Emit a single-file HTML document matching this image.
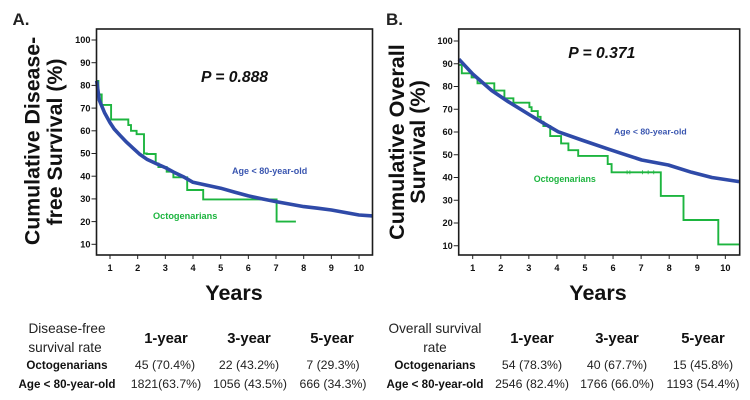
<!DOCTYPE html>
<html lang="en">
<head>
<meta charset="utf-8">
<title>Survival curves: octogenarians versus age under 80</title>
<style>
  html, body { margin: 0; padding: 0; background: #fff; width: 750px; height: 400px; overflow: hidden; }
  svg { display: block; font-family: "Liberation Sans", sans-serif; }
  .tick { font-size: 9.2px; font-weight: bold; fill: #111; }
  .axis-title { font-weight: bold; fill: #111; }
  .tbl { font-size: 12.3px; fill: #222; text-anchor: middle; }
  .tbl-h { font-size: 14.8px; font-weight: bold; fill: #111; text-anchor: middle; }
  .tbl-b { font-size: 11.6px; font-weight: bold; fill: #111; text-anchor: middle; }
  .tbl-t { font-size: 13.6px; fill: #222; text-anchor: middle; }
</style>
</head>
<body>
<svg id="fig" width="750" height="400" viewBox="0 0 750 400" xmlns="http://www.w3.org/2000/svg">
  <rect width="750" height="400" fill="#fff"/>

  <g id="panelA"></g>
  <g id="panelB"></g>

  <text x="12.5" y="25" font-size="17" font-weight="bold" fill="#222">A.</text>
  <text x="386" y="25" font-size="17" font-weight="bold" fill="#222">B.</text>

  <text class="axis-title" font-size="21.3" text-anchor="middle" transform="translate(39.5,141) rotate(-90)">Cumulative Disease-</text>
  <text class="axis-title" font-size="21.3" text-anchor="middle" transform="translate(62,142) rotate(-90)">free Survival (%)</text>
  <text class="axis-title" font-size="21.6" text-anchor="middle" transform="translate(404,142) rotate(-90)">Cumulative Overall</text>
  <text class="axis-title" font-size="21.6" text-anchor="middle" transform="translate(425,142) rotate(-90)">Survival (%)</text>

  <text class="axis-title" font-size="21.5" text-anchor="middle" x="234" y="300">Years</text>
  <text class="axis-title" font-size="21.5" text-anchor="middle" x="598" y="300">Years</text>

  <text x="201" y="82" font-size="15.7" font-weight="bold" font-style="italic" fill="#111">P = 0.888</text>
  <text x="568.3" y="58" font-size="15.7" font-weight="bold" font-style="italic" fill="#111">P = 0.371</text>

  <text x="232" y="174" font-size="9" font-weight="bold" fill="#3a56b0">Age &lt; 80-year-old</text>
  <text x="153" y="219" font-size="9.2" font-weight="bold" fill="#1db53f">Octogenarians</text>
  <text x="614" y="134.7" font-size="8.7" font-weight="bold" fill="#3a56b0">Age &lt; 80-year-old</text>
  <text x="533.7" y="182" font-size="8.9" font-weight="bold" fill="#1db53f">Octogenarians</text>

  <g>
    <text class="tbl-t" x="67" y="333">Disease-free</text>
    <text class="tbl-t" x="65" y="352">survival rate</text>
    <text class="tbl-h" x="166" y="343">1-year</text>
    <text class="tbl-h" x="249" y="343">3-year</text>
    <text class="tbl-h" x="332" y="343">5-year</text>
    <text class="tbl-b" x="67" y="369">Octogenarians</text>
    <text class="tbl" x="165" y="369">45 (70.4%)</text>
    <text class="tbl" x="249" y="369">22 (43.2%)</text>
    <text class="tbl" x="333" y="369">7 (29.3%)</text>
    <text class="tbl-b" x="67" y="388">Age &lt; 80-year-old</text>
    <text class="tbl" x="166" y="388">1821(63.7%)</text>
    <text class="tbl" x="250" y="388">1056 (43.5%)</text>
    <text class="tbl" x="333" y="388">666 (34.3%)</text>
  </g>

  <g>
    <text class="tbl-t" x="435" y="333">Overall survival</text>
    <text class="tbl-t" x="435" y="352">rate</text>
    <text class="tbl-h" x="532" y="343">1-year</text>
    <text class="tbl-h" x="617" y="343">3-year</text>
    <text class="tbl-h" x="703" y="343">5-year</text>
    <text class="tbl-b" x="435" y="369">Octogenarians</text>
    <text class="tbl" x="532" y="369">54 (78.3%)</text>
    <text class="tbl" x="617" y="369">40 (67.7%)</text>
    <text class="tbl" x="703" y="369">15 (45.8%)</text>
    <text class="tbl-b" x="435" y="388">Age &lt; 80-year-old</text>
    <text class="tbl" x="532" y="388">2546 (82.4%)</text>
    <text class="tbl" x="617" y="388">1766 (66.0%)</text>
    <text class="tbl" x="703" y="388">1193 (54.4%)</text>
  </g>
</svg>

<script>
// Shared tick labels
const xTickLabels = [1, 2, 3, 4, 5, 6, 7, 8, 9, 10];
const yTickLabels = [10, 20, 30, 40, 50, 60, 70, 80, 90, 100];

// Panel A: disease-free survival (years, percent)
const aOctoYears = [0.52, 0.58, 0.70, 1.04, 1.66, 1.76, 1.96, 2.23, 2.33, 2.65, 2.75, 3.05, 3.29, 3.79, 4.37, 7.02, 7.72];
const aOctoSurvival = [82, 76, 71.4, 65, 62.5, 60, 58.5, 50, 49.8, 45.6, 44, 42, 39.5, 33.9, 29.8, 20, 20];
const aYoungYears = [0.52, 0.61, 0.8, 1, 1.15, 1.36, 1.6, 1.84, 2.08, 2.33, 2.69, 3, 3.3, 3.65, 4, 4.5, 5, 5.5, 6, 6.5, 7, 7.5, 8, 8.5, 9, 9.5, 10, 10.49];
const aYoungSurvival = [82, 73.6, 68, 63.6, 60.8, 58, 55, 52.3, 49.6, 47.5, 45.4, 43.8, 41.8, 39.8, 37.3, 36, 34.7, 33, 31.3, 30, 28.8, 27.7, 26.6, 25.9, 25.1, 24, 22.9, 22.5];

// Panel B: overall survival (years, percent)
const bOctoYears = [0.51, 0.61, 0.96, 1.17, 1.77, 2.13, 2.45, 3.02, 3.1, 3.32, 3.42, 3.52, 3.76, 4.15, 4.41, 4.76, 5.81, 5.95, 7.7, 8.51, 9.75, 10.49];
const bOctoSurvival = [89.5, 85.8, 84, 81.4, 78.2, 74.8, 72.9, 70.9, 69.2, 66.7, 64.5, 62.6, 58.2, 55, 52, 49.5, 45.9, 42.3, 31.9, 21.3, 10.6, 10.6];
const bYoungYears = [0.51, 1, 1.68, 2.27, 2.98, 3.46, 4.05, 4.88, 5.83, 6.3, 7.02, 7.97, 8.8, 9.52, 10.49];
const bYoungSurvival = [92, 85.5, 78.2, 73.3, 67.9, 64.3, 60.1, 56.5, 52.5, 50.6, 47.7, 45.5, 42.3, 40, 38.2];
const bCensorYears = [6.5, 6.6, 7.05, 7.25, 7.45];
const bCensorSurvival = [42.3, 42.3, 42.3, 42.3, 42.3];

const NS = 'http://www.w3.org/2000/svg';

function make(parent, tag, attrs) {
  const el = document.createElementNS(NS, tag);
  for (const k in attrs) el.setAttribute(k, attrs[k]);
  parent.appendChild(el);
  return el;
}

function stepPath(xs, ys, sx, sy) {
  let d = 'M' + sx(xs[0]).toFixed(1) + ' ' + sy(ys[0]).toFixed(1);
  for (let i = 1; i < xs.length; i++) {
    d += 'H' + sx(xs[i]).toFixed(1) + 'V' + sy(ys[i]).toFixed(1);
  }
  return d;
}

function linePath(xs, ys, sx, sy) {
  return xs.map((v, i) => (i ? 'L' : 'M') + sx(v).toFixed(1) + ' ' + sy(ys[i]).toFixed(1)).join('');
}

function drawPanel(root, box, sx, sy, octoX, octoY, youngX, youngY, censorX, censorY) {
  xTickLabels.forEach(function (t) {
    const tick = make(root, 'line', { x1: sx(t), x2: sx(t), y1: box.bottom, y2: box.bottom + 4, stroke: '#222', 'stroke-width': 1 });
    
    
    const label = make(root, 'text', { x: sx(t), y: 271, 'text-anchor': 'middle', class: 'tick' });
    label.textContent = t;
    
    
  });
  yTickLabels.forEach(function (v) {
    const tick = make(root, 'line', { x1: box.left - 5, x2: box.left, y1: sy(v), y2: sy(v), stroke: '#222', 'stroke-width': 1 });
    
    
    const label = make(root, 'text', { x: box.left - 6, y: sy(v) + 3.2, 'text-anchor': 'end', class: 'tick' });
    label.textContent = v;
    
    
  });

  const octo = make(root, 'path', { d: stepPath(octoX, octoY, sx, sy), fill: 'none', stroke: '#1db53f', 'stroke-width': 1.9 });
  
  

  censorX.forEach(function (t, i) {
    const mark = make(root, 'line', { x1: sx(t), x2: sx(t), y1: sy(censorY[i]) - 2, y2: sy(censorY[i]) + 2, stroke: '#1db53f', 'stroke-width': 0.8 });
    
    
  });

  const young = make(root, 'path', { d: linePath(youngX, youngY, sx, sy), fill: 'none', stroke: '#2f4aa8', 'stroke-width': 3.6, 'stroke-linejoin': 'round' });
  
  

  const frame = make(root, 'rect', { x: box.left, y: box.top, width: box.right - box.left, height: box.bottom - box.top, fill: 'none', stroke: '#1c1c1c', 'stroke-width': 1.6 });
  
  
}

drawPanel(
  document.getElementById('panelA'),
  { left: 96.5, right: 372.5, top: 29, bottom: 255 },
  function (t) { return 110 + (t - 1) * 27.67; },
  function (v) { return 40 + (100 - v) * 2.27; },
  aOctoYears, aOctoSurvival, aYoungYears, aYoungSurvival, [], []
);

drawPanel(
  document.getElementById('panelB'),
  { left: 458.7, right: 739.7, top: 29, bottom: 255 },
  function (t) { return 472.7 + (t - 1) * 28.07; },
  function (v) { return 41 + (100 - v) * 2.275; },
  bOctoYears, bOctoSurvival, bYoungYears, bYoungSurvival, bCensorYears, bCensorSurvival
);
</script>
</body>
</html>
